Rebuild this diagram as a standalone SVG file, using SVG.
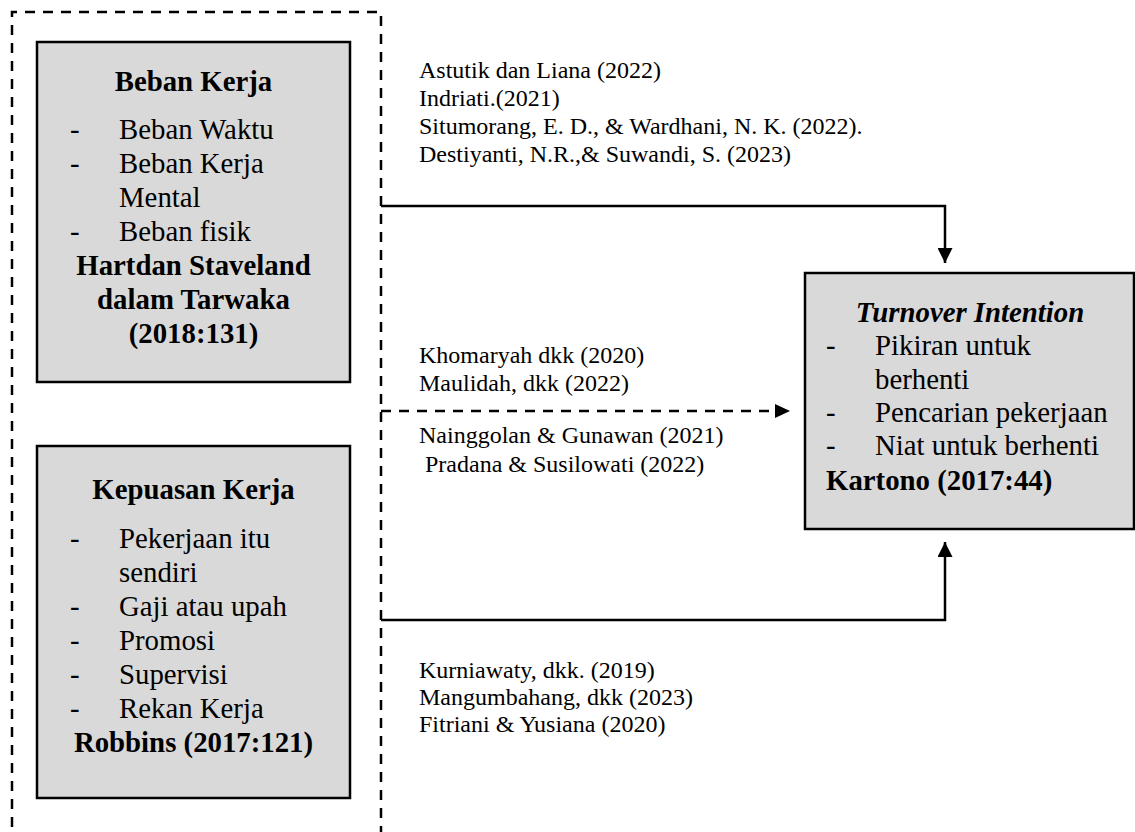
<svg xmlns="http://www.w3.org/2000/svg" width="1135" height="832" viewBox="0 0 1135 832">
<defs>
<style>
.box{fill:#d9d9d9;stroke:#000;stroke-width:2.5}
.t{font-family:"Liberation Serif","Times New Roman",serif;font-size:28.8px;fill:#000}
.b{font-weight:bold}
.c{font-family:"Liberation Serif","Times New Roman",serif;font-size:24px;fill:#000}
.ln{fill:none;stroke:#000;stroke-width:2.5}
.dash{fill:none;stroke:#000;stroke-width:2.5;stroke-dasharray:10 8}
</style>
<marker id="ah" viewBox="0 0 10 10" refX="10" refY="5" markerWidth="16" markerHeight="15" markerUnits="userSpaceOnUse" orient="auto">
<path d="M0,0 L10,5 L0,10 Z" fill="#000"/>
</marker>
</defs>
<rect width="1135" height="832" fill="#fff"/>
<g id="outer-frame">
<path class="dash" d="M12,845 L12,12 L381,12 L381,845"/>
</g>
<g id="beban-kerja">
<rect class="box" x="37" y="42" width="313" height="340"/>
<text class="t b" x="193.5" y="91" text-anchor="middle">Beban Kerja</text>
<text class="t" x="70" y="139">-</text><text class="t" x="119" y="139">Beban Waktu</text>
<text class="t" x="70" y="173">-</text><text class="t" x="119" y="173">Beban Kerja</text>
<text class="t" x="119" y="207">Mental</text>
<text class="t" x="70" y="241">-</text><text class="t" x="119" y="241">Beban fisik</text>
<text class="t b" x="193.5" y="275" text-anchor="middle">Hartdan Staveland</text>
<text class="t b" x="193.5" y="309" text-anchor="middle">dalam Tarwaka</text>
<text class="t b" x="193.5" y="343" text-anchor="middle">(2018:131)</text>
</g>
<g id="kepuasan-kerja">
<rect class="box" x="37" y="446" width="313" height="352"/>
<text class="t b" x="193.5" y="499" text-anchor="middle">Kepuasan Kerja</text>
<text class="t" x="70" y="548">-</text><text class="t" x="119" y="548">Pekerjaan itu</text>
<text class="t" x="119" y="582">sendiri</text>
<text class="t" x="70" y="616">-</text><text class="t" x="119" y="616">Gaji atau upah</text>
<text class="t" x="70" y="650">-</text><text class="t" x="119" y="650">Promosi</text>
<text class="t" x="70" y="684">-</text><text class="t" x="119" y="684">Supervisi</text>
<text class="t" x="70" y="718">-</text><text class="t" x="119" y="718">Rekan Kerja</text>
<text class="t b" x="193.5" y="752" text-anchor="middle">Robbins (2017:121)</text>
</g>
<g id="turnover-intention">
<rect class="box" x="805" y="273" width="329" height="256"/>
<text class="t b" x="970" y="322" text-anchor="middle" font-style="italic">Turnover Intention</text>
<text class="t" x="826" y="355">-</text><text class="t" x="875" y="355">Pikiran untuk</text>
<text class="t" x="875" y="389">berhenti</text>
<text class="t" x="826" y="422">-</text><text class="t" x="875" y="422">Pencarian pekerjaan</text>
<text class="t" x="826" y="455">-</text><text class="t" x="875" y="455">Niat untuk berhenti</text>
<text class="t b" x="826" y="490">Kartono (2017:44)</text>
</g>
<g id="connectors">
<path class="ln" d="M381,206 L945,206 L945,263" marker-end="url(#ah)"/>
<path class="dash" d="M381,411 L778,411"/>
<path d="M775,404 L790,411 L775,418 Z" fill="#000"/>
<path class="ln" d="M381,620 L945,620 L945,542" marker-end="url(#ah)"/>
</g>
<g id="citations">
<text class="c" x="419" y="78">Astutik dan Liana (2022)</text>
<text class="c" x="419" y="106">Indriati.(2021)</text>
<text class="c" x="419" y="134">Situmorang, E. D., &amp; Wardhani, N. K. (2022).</text>
<text class="c" x="419" y="162">Destiyanti, N.R.,&amp; Suwandi, S. (2023)</text>
<text class="c" x="419" y="363">Khomaryah dkk (2020)</text>
<text class="c" x="419" y="391">Maulidah, dkk (2022)</text>
<text class="c" x="419" y="443">Nainggolan &amp; Gunawan (2021)</text>
<text class="c" x="419" y="472" xml:space="preserve"> Pradana &amp; Susilowati (2022)</text>
<text class="c" x="419" y="678">Kurniawaty, dkk. (2019)</text>
<text class="c" x="419" y="705">Mangumbahang, dkk (2023)</text>
<text class="c" x="419" y="732">Fitriani &amp; Yusiana (2020)</text>
</g>
</svg>
